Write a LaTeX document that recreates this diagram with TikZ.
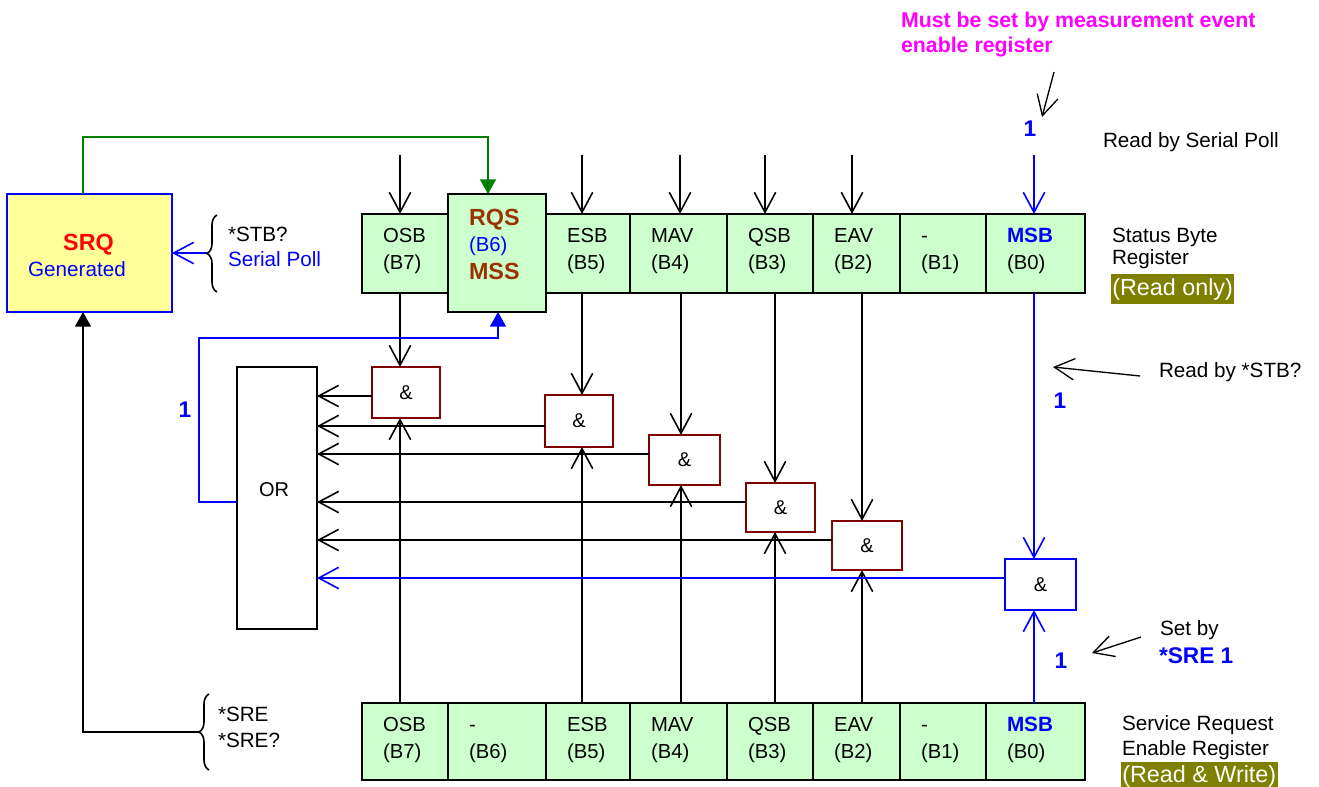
\documentclass[tikz,border=0pt]{standalone}
\usepackage{fontspec}
\setmainfont{Liberation Sans}
\usetikzlibrary{arrows.meta,decorations.pathreplacing,calc}
\definecolor{cellg}{HTML}{CCFFCC}
\definecolor{srqy}{HTML}{FFFF99}
\definecolor{gatered}{HTML}{800000}
\definecolor{olivebg}{HTML}{808000}
\definecolor{magtxt}{HTML}{FF00FF}
\definecolor{bluel}{HTML}{0000FF}
\definecolor{greenl}{HTML}{008000}
\definecolor{brownt}{HTML}{993300}
\definecolor{redt}{HTML}{FF0000}
\newcommand\mkcell[7]{%
  \node[cell, minimum width={(#3-#2)*0.75pt}, minimum height={(#5-#4)*0.75pt}] (#1) at ({(#2+#3)/2},{(#4+#5)/2}) {};
  \node[ctext] (#1-a) at ({#2+21},{#4+28}) {#6};
  \node[ctext] (#1-b) at ({#2+21},{#4+55}) {#7};}
\newcommand\mkgate[6]{%
  \node[#6, minimum width={(#3-#2)*0.75pt}, minimum height={(#5-#4)*0.75pt}] (#1) at ({(#2+#3)/2},{(#4+#5)/2}) {\&};}
\begin{document}
\begin{tikzpicture}[x=0.75pt,y=-0.75pt,
  every node/.style={inner sep=0pt, outer sep=0pt},
  cell/.style={draw=black, fill=cellg, line width=1.2pt},
  ctext/.style={anchor=base west, font=\fontsize{15.2}{18}\selectfont},
  lbl/.style={anchor=base west, font=\fontsize{15.5}{18}\selectfont},
  one/.style={anchor=base, text=bluel, font=\bfseries\fontsize{17}{20}\selectfont},
  gatebox/.style={draw=gatered, fill=white, line width=1.2pt, font=\fontsize{15}{18}\selectfont},
  bgatebox/.style={draw=bluel, fill=white, line width=1.2pt, font=\fontsize{15}{18}\selectfont},
  tipo/.style={-{Straight Barb[length=15pt,width=16pt]}},
  arr/.style={draw=black, line width=1.2pt, tipo},
  barr/.style={draw=bluel, line width=1.2pt, tipo},
  tipf/.style={-{Triangle[length=11pt,width=12pt]}},
  olivebox/.style={fill=olivebg, text=white, inner xsep=1pt, inner ysep=3pt, font=\fontsize{17.5}{20}\selectfont},
  bracestyle/.style={draw=black, line width=1.2pt, decorate, decoration={brace, amplitude=7.5pt}}
]
\useasboundingbox (0,0) rectangle (1319,786);

% ---------- SRQ box ----------
\node[draw=bluel, fill=srqy, line width=1.4pt, minimum width={165*0.75pt}, minimum height={118*0.75pt}] (srq) at (89.5,253) {};
\node[anchor=base, text=redt, font=\bfseries\fontsize{17.5}{20}\selectfont] (srqt) at (88.5,250) {SRQ};
\node[anchor=base, text=bluel, font=\fontsize{15.5}{18}\selectfont] (srqg) at (77,276) {Generated};

% ---------- Status byte register ----------
\mkcell{sosb}{362}{448}{214}{293}{OSB}{(B7)}
\mkcell{sesb}{546}{630}{214}{293}{ESB}{(B5)}
\mkcell{smav}{630}{727}{214}{293}{MAV}{(B4)}
\mkcell{sqsb}{727}{813}{214}{293}{QSB}{(B3)}
\mkcell{seav}{813}{900}{214}{293}{EAV}{(B2)}
\mkcell{sbone}{900}{986}{214}{293}{-}{(B1)}
\mkcell{smsb}{986}{1085}{214}{293}{\textcolor{bluel}{\bfseries\fontsize{15.5}{18}\selectfont MSB}}{(B0)}
\node[cell, minimum width={98*0.75pt}, minimum height={118*0.75pt}] (rqs) at (497,253) {};
\node[anchor=base west, text=brownt, font=\bfseries\fontsize{17.5}{20}\selectfont] (rqs-a) at (469,225) {RQS};
\node[anchor=base west, text=bluel, font=\fontsize{15.2}{18}\selectfont] (rqs-b) at (469,251) {(B6)};
\node[anchor=base west, text=brownt, font=\bfseries\fontsize{17.5}{20}\selectfont] (rqs-c) at (469,279) {MSS};

% ---------- Service request enable register ----------
\mkcell{bosb}{362}{448}{703}{780}{OSB}{(B7)}
\mkcell{bsix}{448}{546}{703}{780}{-}{(B6)}
\mkcell{besb}{546}{630}{703}{780}{ESB}{(B5)}
\mkcell{bmav}{630}{727}{703}{780}{MAV}{(B4)}
\mkcell{bqsb}{727}{813}{703}{780}{QSB}{(B3)}
\mkcell{beav}{813}{900}{703}{780}{EAV}{(B2)}
\mkcell{bbone}{900}{986}{703}{780}{-}{(B1)}
\mkcell{bmsb}{986}{1085}{703}{780}{\textcolor{bluel}{\bfseries\fontsize{15.5}{18}\selectfont MSB}}{(B0)}

% ---------- OR and gates ----------
\node[draw=black, fill=white, line width=1.2pt, minimum width={80*0.75pt}, minimum height={262*0.75pt}] (orb) at (277,498) {};
\node[font=\fontsize{15}{18}\selectfont] (orl) at (274,490) {OR};
\mkgate{ga}{372}{440}{367}{418}{gatebox}
\mkgate{gb}{545}{613}{395}{447}{gatebox}
\mkgate{gc}{649}{720}{435}{485}{gatebox}
\mkgate{gd}{746}{815}{483}{532}{gatebox}
\mkgate{ge}{832}{902}{521}{570}{gatebox}
\mkgate{gm}{1005}{1076}{559}{610}{bgatebox}

% ---------- helper coordinates ----------
\coordinate (va) at (400,0);  \coordinate (vb) at (582,0);
\coordinate (vc) at (681,0);  \coordinate (vd) at (775,0);
\coordinate (ve) at (862,0);  \coordinate (vm) at (1034,0);
\coordinate (ta) at (400,155); \coordinate (tb) at (582,155);
\coordinate (tc) at (680,155); \coordinate (td) at (765,155);
\coordinate (te) at (852,155); \coordinate (tm) at (1034,155);
\coordinate (ha) at (0,396); \coordinate (hb) at (0,426);
\coordinate (hc) at (0,454); \coordinate (hd) at (0,502);
\coordinate (he) at (0,540); \coordinate (hm) at (0,578);

% inputs into status byte
\foreach \t/\c in {ta/sosb, tb/sesb, tc/smav, td/sqsb, te/seav}
  \draw[arr] (\t) -- (\t |- \c.north);
\draw[barr] (tm) -- (tm |- smsb.north);

% status byte to gates (top)
\foreach \v/\c/\g in {va/sosb/ga, vb/sesb/gb, vc/smav/gc, vd/sqsb/gd, ve/seav/ge}
  \draw[arr] (\v |- \c.south) -- (\v |- \g.north);
\draw[barr] (vm |- smsb.south) -- (vm |- gm.north);
% enable register to gates (bottom)
\foreach \v/\c/\g in {va/bosb/ga, vb/besb/gb, vc/bmav/gc, vd/bqsb/gd, ve/beav/ge}
  \draw[arr] (\v |- \c.north) -- (\v |- \g.south);
\draw[barr] (vm |- bmsb.north) -- (vm |- gm.south);

% gates to OR
\foreach \h/\g in {ha/ga, hb/gb, hc/gc, hd/gd, he/ge}
  \draw[arr] (\g.west |- \h) -- (orb.east |- \h);
\draw[barr] (gm.west |- hm) -- (orb.east |- hm);

% OR feedback to RQS
\coordinate (fx) at (199,338); \coordinate (rx) at (498,0);
\draw[draw=bluel, line width=1.2pt, tipf] (orb.west |- hd) -- (fx |- hd) -- (fx) -- (rx |- fx) -- (rx |- rqs.south);
\node[one] (oneleft) at (185,417) {1};

% SRQ to RQS (green)
\coordinate (gx) at (83,137); \coordinate (gtx) at (488,0);
\draw[draw=greenl, line width=1.2pt, tipf] (gx |- srq.north) -- (gx) -- (gtx |- gx) -- (gtx |- rqs.north);

% *SRE into SRQ
\coordinate (sre) at (200,732);
\draw[draw=black, line width=1.2pt, tipf] (sre) -- (gx |- sre) -- (gx |- srq.south);
\draw[bracestyle] (209,770) -- (209,694);
\node[lbl] (srea) at (218,721) {*SRE};
\node[lbl] (sreb) at (218,747) {*SRE?};

% *STB? into SRQ
\coordinate (stb) at (208,253);
\draw[barr] (stb) -- (stb -| srq.east);
\draw[bracestyle] (217,292) -- (217,215);
\node[lbl] (stba) at (228,241) {*STB?};
\node[lbl, text=bluel] (stbb) at (228,266) {Serial Poll};

% ---------- right-hand annotations ----------
\node[anchor=base west, text=magtxt, font=\bfseries\fontsize{16}{18}\selectfont] (musta) at (901,27) {Must be set by measurement event};
\node[anchor=base west, text=magtxt, font=\bfseries\fontsize{16}{18}\selectfont] (mustb) at (901,52) {enable register};
\coordinate (mfrom) at (1054,72); \coordinate (mto) at (1042,117);
\draw[arr, line width=1pt] (mfrom) -- (mto);
\node[one] (onetop) at (1030,136) {1};
\node[lbl] (rsp) at (1103,147) {Read by Serial Poll};

\node[lbl] (sbra) at (1112,242) {Status Byte};
\node[lbl] (sbrb) at (1112,264) {Register};
\node[olivebox, anchor=base west] (ronly) at (1111,295) {(Read only)};

\coordinate (sfrom) at (1140,376); \coordinate (sto) at (1053,367);
\draw[arr, line width=1pt] (sfrom) -- (sto);
\node[lbl] (rstb) at (1159,377) {Read by *STB?};
\node[one] (onemid) at (1060,408) {1};

\coordinate (efrom) at (1141,637); \coordinate (eto) at (1092,653);
\draw[arr, line width=1pt] (efrom) -- (eto);
\node[lbl] (seta) at (1160,635) {Set by};
\node[anchor=base west, text=bluel, font=\bfseries\fontsize{17}{20}\selectfont] (setb) at (1159,663) {*SRE 1};
\node[one] (onelow) at (1061,668) {1};

\node[lbl] (srera) at (1122,730) {Service Request};
\node[lbl] (srerb) at (1122,755) {Enable Register};
\node[olivebox, anchor=north west] (rw) at (1121,762) {(Read \& Write)};
\end{tikzpicture}
\end{document}
